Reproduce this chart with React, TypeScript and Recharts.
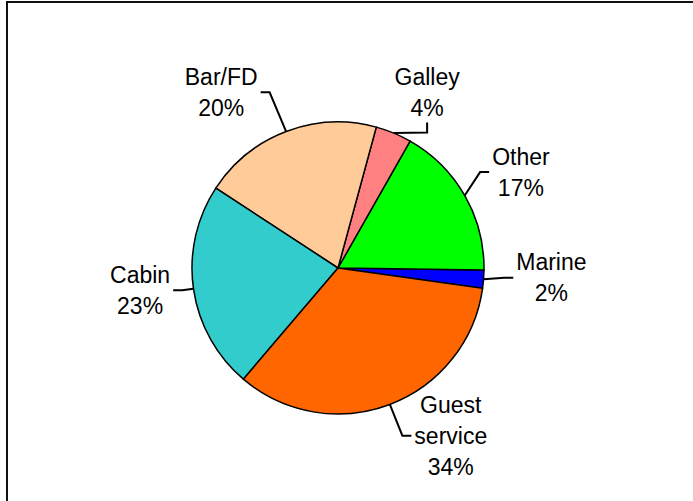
import React from "react";
import { PieChart, Pie, Cell } from "recharts";

// slices, counter-clockwise from just below 3 o'clock
const categories = ["Marine", "Other", "Galley", "Bar/FD", "Cabin", "Guest service"];
const shares = [2, 17, 4, 20, 23, 34];
const sliceColors = ["#0000FF", "#00FF00", "#FF8080", "#FFCC99", "#33CCCC", "#FF6600"];

const data = categories.map((name, i) => ({ name, value: shares[i] }));

// label placement tweaks, px (Excel-style nudges away from the radial spot)
const labelNudge: { [name: string]: [number, number] } = {
  Marine: [9, -6],
  Other: [5, 6],
  Galley: [11, 14],
  "Bar/FD": [-44, 16],
  Cabin: [5, -7],
  "Guest service": [40, -24],
};

const FONT = "'Liberation Sans', Arial, sans-serif";
const FONT_SIZE = 23;
const LINE_H = 31;
const RAD = Math.PI / 180;

let ctx: CanvasRenderingContext2D | null = null;
const textWidth = (s: string) => {
  if (!ctx) ctx = document.createElement("canvas").getContext("2d");
  if (!ctx) return s.length * FONT_SIZE * 0.55;
  ctx.font = `${FONT_SIZE}px 'Liberation Sans', Arial`;
  return ctx.measureText(s).width;
};

const renderLabel = (props: any) => {
  const { cx, cy, midAngle, outerRadius, index } = props;
  const name = categories[index];
  const lines = [...name.split(" "), `${shares[index]}%`];
  const cos = Math.cos(-midAngle * RAD);
  const sin = Math.sin(-midAngle * RAD);
  const edge = { x: cx + outerRadius * cos, y: cy + outerRadius * sin };
  const nudge = labelNudge[name] || [0, 0];
  const tx = cx + (outerRadius + 59) * cos + nudge[0];
  const ty = cy + (outerRadius + 59) * sin + nudge[1];
  const halfW = Math.max(...lines.map(textWidth)) / 2;
  const halfH = (lines.length * LINE_H) / 2;

  let path = "";
  if (Math.abs(edge.x - tx) > halfW + 12) {
    // leader enters from the side
    const sgn = Math.sign(edge.x - tx);
    const ex = tx + sgn * (halfW + 3);
    path = `M${ex},${ty}L${ex + sgn * 9},${ty}L${edge.x},${edge.y}`;
  } else {
    // leader drops from below/above
    const sgn = Math.sign(edge.y - ty);
    const ey = ty + sgn * (halfH - 1);
    path = `M${tx},${ey}L${tx},${ey + sgn * 10}L${edge.x},${edge.y}`;
  }

  const top = ty - halfH + LINE_H / 2;
  return (
    <g key={`lbl-${index}`}>
      <path d={path} stroke="#000" strokeWidth={2} fill="none" />
      <text textAnchor="middle" fontFamily={FONT} fontSize={FONT_SIZE} fill="#000">
        {lines.map((ln, i) => (
          <tspan key={i} x={tx} y={top + i * LINE_H + 8}>
            {ln}
          </tspan>
        ))}
      </text>
    </g>
  );
};

export default function App() {
  return (
    <div
      style={{
        position: "absolute",
        left: 0,
        top: 0,
        width: 693,
        height: 501,
        overflow: "hidden",
        background: "#fff",
      }}
    >
      <div
        style={{
          position: "absolute",
          left: 6,
          top: 1,
          width: 720,
          height: 540,
          border: "2px solid #111",
        }}
      />
      <div style={{ position: "absolute", left: 0, top: 0 }}>
        <PieChart width={693} height={501} margin={{ top: 0, right: 0, bottom: 0, left: 0 }}>
          <Pie
            data={data}
            dataKey="value"
            nameKey="name"
            cx={338}
            cy={268}
            outerRadius={146}
            startAngle={-8}
            endAngle={352}
            stroke="#000"
            strokeWidth={1.5}
            label={renderLabel}
            labelLine={false}
            isAnimationActive={false}
          >
            {data.map((d, i) => (
              <Cell key={d.name} fill={sliceColors[i]} />
            ))}
          </Pie>
        </PieChart>
      </div>
    </div>
  );
}
